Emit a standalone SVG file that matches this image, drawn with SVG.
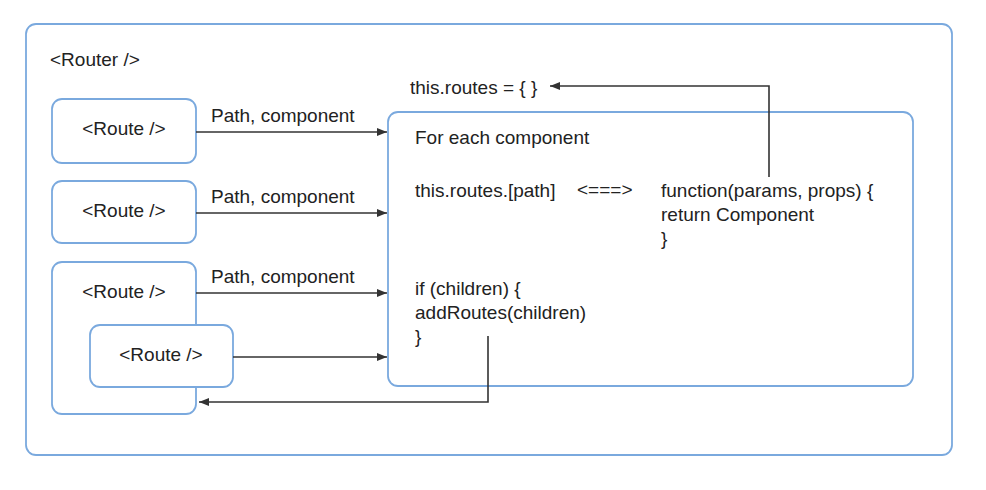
<svg xmlns="http://www.w3.org/2000/svg" width="986" height="490" viewBox="0 0 986 490">
<style>
.box{fill:#fff;stroke:#7aa9de;stroke-width:1.8}
.t{font-family:"Liberation Sans",Arial,sans-serif;font-size:19px;fill:#222}
.c{stroke:#333;stroke-width:1.6;fill:none}
</style>
<defs>
<marker id="ah" viewBox="0 0 10 8" refX="10" refY="4" markerWidth="10" markerHeight="8" markerUnits="userSpaceOnUse" orient="auto">
<path d="M0,0 L10,4 L0,8 z" fill="#333"/>
</marker>
</defs>
<rect width="986" height="490" fill="#fff"/>
<g id="router">
<rect class="box" x="26" y="24" width="926" height="431" rx="10"/>
<text class="t" x="50" y="66">&lt;Router /&gt;</text>
</g>
<g id="route1">
<rect class="box" x="52" y="99" width="144" height="64" rx="10"/>
<text class="t" x="124" y="135" text-anchor="middle">&lt;Route /&gt;</text>
</g>
<g id="route2">
<rect class="box" x="52" y="181" width="144" height="62" rx="10"/>
<text class="t" x="124" y="217" text-anchor="middle">&lt;Route /&gt;</text>
</g>
<g id="route3">
<rect class="box" x="52" y="262" width="144" height="152" rx="10"/>
<text class="t" x="124" y="298" text-anchor="middle">&lt;Route /&gt;</text>
</g>
<g id="route4">
<rect class="box" x="90" y="325" width="143" height="62" rx="10"/>
<text class="t" x="161" y="361" text-anchor="middle">&lt;Route /&gt;</text>
</g>
<g id="routesInit">
<text class="t" x="410" y="94">this.routes = { }</text>
</g>
<g id="main">
<rect class="box" x="388" y="112" width="525" height="274" rx="10"/>
<text class="t" x="415" y="144">For each component</text>
<text class="t" x="415" y="197">this.routes.[path]</text>
<text class="t" x="577" y="196" font-size="16">&lt;===&gt;</text>
<text class="t" x="661" y="197">function(params, props) {</text>
<text class="t" x="661" y="221">return Component</text>
<text class="t" x="661" y="245">}</text>
<text class="t" x="415" y="295">if (children) {</text>
<text class="t" x="415" y="319">addRoutes(children)</text>
<text class="t" x="415" y="343">}</text>
</g>
<g id="connectors">
<line class="c" x1="196" y1="132" x2="387" y2="132" marker-end="url(#ah)"/>
<text class="t" x="211" y="122">Path, component</text>
<line class="c" x1="196" y1="213" x2="387" y2="213" marker-end="url(#ah)"/>
<text class="t" x="211" y="203">Path, component</text>
<line class="c" x1="196" y1="293" x2="387" y2="293" marker-end="url(#ah)"/>
<text class="t" x="211" y="283">Path, component</text>
<line class="c" x1="233" y1="357" x2="387" y2="357" marker-end="url(#ah)"/>
<polyline class="c" points="488,336 488,402 199,402" marker-end="url(#ah)"/>
<polyline class="c" points="769,177 769,86 550,86" marker-end="url(#ah)"/>
</g>
</svg>
